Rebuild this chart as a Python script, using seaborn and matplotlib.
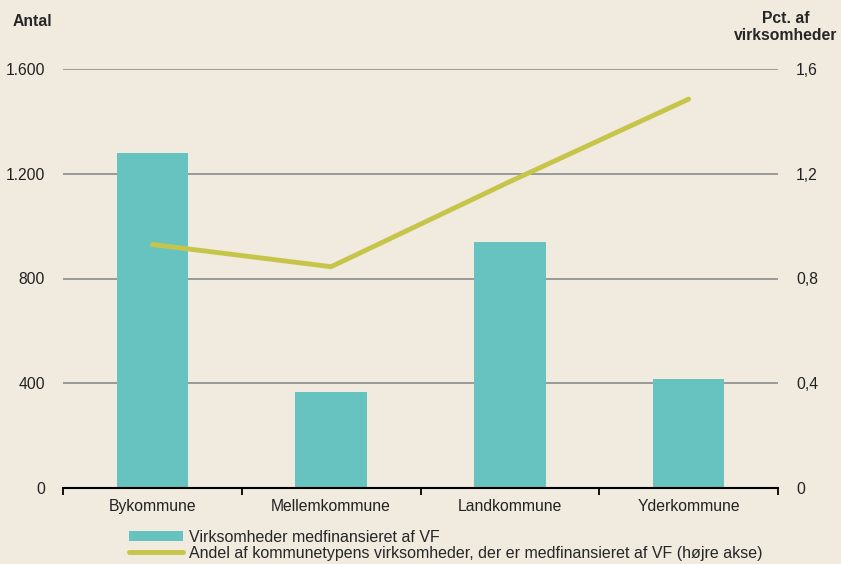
import numpy as np
import pandas as pd
import matplotlib
matplotlib.use("Agg")
import matplotlib.pyplot as plt
import seaborn as sns
from matplotlib.patches import Patch
from matplotlib.lines import Line2D

# Data
categories = ["Bykommune", "Mellemkommune", "Landkommune", "Yderkommune"]
antal = [1280, 365, 940, 415]
andel_pct = [0.93, 0.845, 1.17, 1.485]

left_ticks = [0, 400, 800, 1200, 1600]
left_labels = ["0", "400", "800", "1.200", "1.600"]
right_ticks = [0, 0.4, 0.8, 1.2, 1.6]
right_labels = ["0", "0,4", "0,8", "1,2", "1,6"]

bar_label = "Virksomheder medfinansieret af VF"
line_label = "Andel af kommunetypens virksomheder, der er medfinansieret af VF (højre akse)"

bg = "#F0EADF"
bar_color = "#67C3C0"
line_color = "#C6C54A"

sns.set_style("white")
plt.rcParams["font.family"] = ["Liberation Sans", "DejaVu Sans"]
fs = 11.3

df = pd.DataFrame({"kommune": categories, "antal": antal, "andel": andel_pct})

fig = plt.figure(figsize=(8.41, 5.64), dpi=100, facecolor=bg)
ax = fig.add_axes([63 / 841, 76 / 564, 715 / 841, 419 / 564])
ax.set_facecolor(bg)

for y in left_ticks[1:]:
    ax.axhline(y, color="#999999", lw=1.4, zorder=0)

sns.barplot(data=df, x="kommune", y="antal", color=bar_color, width=0.4,
            saturation=1, linewidth=0, edgecolor="none", ax=ax, zorder=2)
ax.set_xlim(-0.5, len(categories) - 0.5)
ax.set_ylim(0, 1600)
ax.set_yticks(left_ticks)
ax.set_yticklabels(left_labels)
ax.set_xlabel("")
ax.set_ylabel("")
ax.tick_params(axis="y", left=False, length=0, pad=13, labelsize=fs, colors="#222222")
ax.tick_params(axis="x", which="major", bottom=True, length=0, pad=8,
               labelsize=fs, colors="#222222")
ax.set_xticks(np.arange(-0.5, len(categories)), minor=True)
ax.tick_params(axis="x", which="minor", bottom=True, length=5, width=1.3,
               color="black", direction="out")
for s in ["top", "left", "right"]:
    ax.spines[s].set_visible(False)
ax.spines["bottom"].set_color("black")
ax.spines["bottom"].set_linewidth(1.5)
ax.spines["bottom"].set_zorder(5)

ax2 = ax.twinx()
sns.lineplot(x=np.arange(len(categories)), y=df["andel"], color=line_color, lw=3.5,
             ax=ax2, zorder=3)
ax2.set_ylim(0, 1.6)
ax2.set_yticks(right_ticks)
ax2.set_yticklabels(right_labels)
ax2.set_ylabel("")
ax2.tick_params(axis="y", right=False, length=0, pad=13, labelsize=fs, colors="#222222")
for s in ["top", "left", "right", "bottom"]:
    ax2.spines[s].set_visible(False)

fig.text(13 / 841, 1 - 22 / 564, "Antal", fontweight="bold", fontsize=fs,
         ha="left", va="center")
fig.text(786 / 841, 1 - 27 / 564, "Pct. af\nvirksomheder", fontweight="bold",
         fontsize=fs, ha="center", va="center", linespacing=1.1)

handles = [Patch(facecolor=bar_color, edgecolor="none"),
           Line2D([], [], color=line_color, lw=3.5, solid_capstyle="round")]
fig.legend(handles, [bar_label, line_label], loc="upper left",
           bbox_to_anchor=(129 / 841, 1 - 530 / 564), frameon=False,
           handlelength=3.4, handleheight=0.6, labelspacing=0.05,
           handletextpad=0.35, borderaxespad=0, borderpad=0, fontsize=11.5)

fig.savefig("out.png", dpi=100, facecolor=bg)
